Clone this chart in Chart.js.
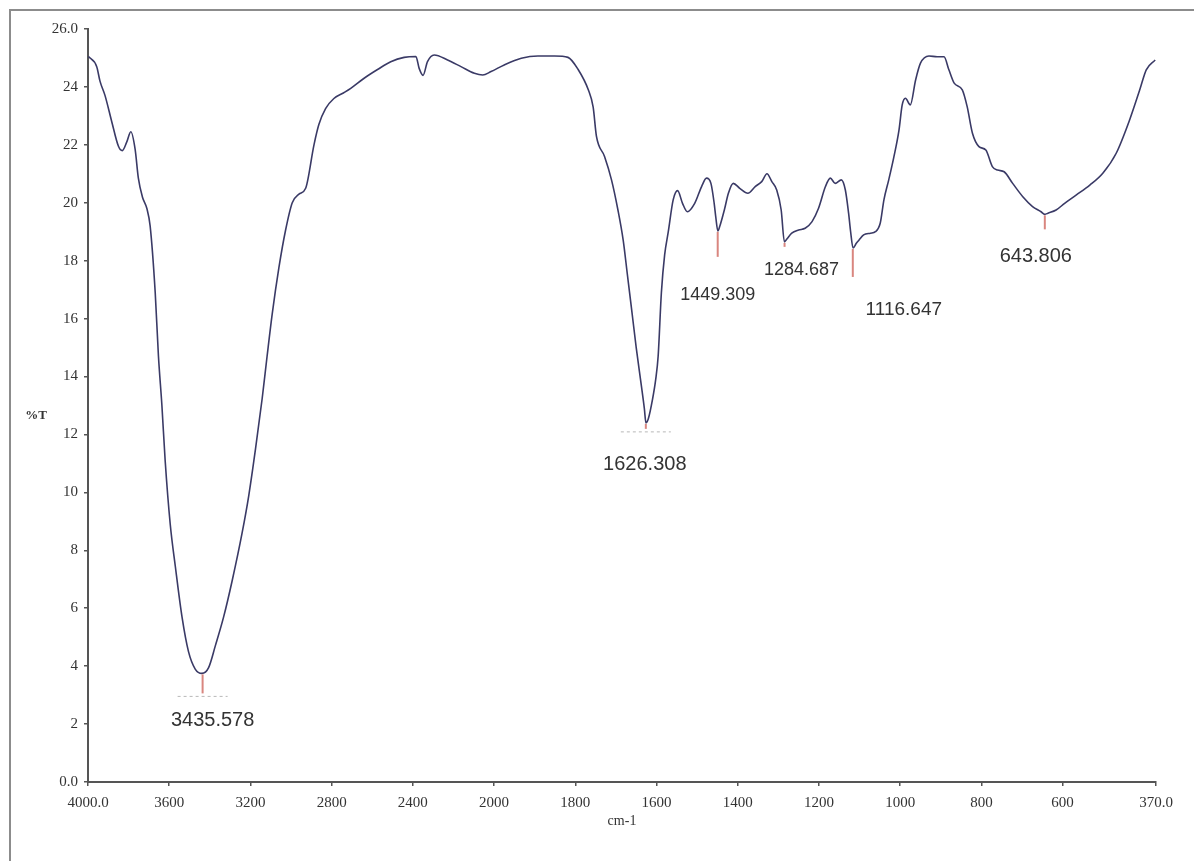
<!DOCTYPE html>
<html>
<head>
<meta charset="utf-8">
<title>FTIR %T</title>
<script src="https://cdn.jsdelivr.net/npm/chart.js@4/dist/chart.umd.min.js"></script>
<style>
  html, body { margin: 0; padding: 0; background: #fff; overflow: hidden; }
  #frame {
    position: absolute; left: 9px; top: 9px; width: 1400px; height: 1000px;
    border-left: 2px solid #8c8c8c; border-top: 2px solid #8c8c8c;
  }
  #wrap { position: absolute; left: 0; top: 0; width: 1194px; height: 861px; }
</style>
</head>
<body>
<div id="frame"></div>
<div id="wrap"><canvas id="chartIR" width="1194" height="861"></canvas></div>
<script>
// espectro: número de onda (cm-1) y %T
const wavenumbers = [3998,3957,3941,3916,3883,3850,3831,3809,3789,3768,
  3752,3732,3710,3694,3669,3653,3636,3620,3595,3570,
  3537,3505,3472,3439,3406,3373,3332,3290,3241,3208,
  3175,3142,3118,3093,3060,3027,2994,2961,2928,2887,
  2863,2830,2789,2740,2706,2640,2574,2509,2443,2385,
  2369,2350,2328,2295,2229,2163,2097,2056,2015,1975,
  1933,1892,1851,1818,1793,1768,1756,1748,1728,1711,
  1695,1682,1672,1662,1650,1637,1630,1626,1620,1610,
  1602,1596,1588,1580,1571,1559,1548,1536,1524,1506,
  1489,1477,1466,1458,1454,1449,1444,1433,1423,1411,
  1395,1375,1357,1341,1328,1316,1304,1293,1285,1279,
  1267,1250,1234,1217,1201,1184,1172,1160,1145,1135,
  1127,1122,1116,1108,1102,1090,1073,1061,1049,1040,
  1028,1016,1003,995,987,975,962,950,929,909,
  892,880,867,847,835,822,806,789,773,760,
  744,723,698,674,653,644,636,616,595,566,
  533,501,468,435,410,394,372];

const transmittance = [25.05,24.7,24.2,23.7,22.8,21.95,21.8,22.1,22.45,21.85,
  20.85,20.2,19.8,19.2,16.9,14.7,13.0,11.1,8.9,7.45,
  5.7,4.5,3.9,3.75,3.95,4.7,5.7,6.95,8.6,9.9,
  11.5,13.25,14.7,16.15,17.75,19.05,20.0,20.3,20.5,22.0,
  22.7,23.25,23.6,23.8,23.95,24.3,24.6,24.87,25.02,25.05,
  24.64,24.4,24.87,25.1,24.93,24.7,24.47,24.41,24.53,24.76,
  24.99,25.07,25.07,25.02,24.6,23.9,23.3,22.3,21.6,20.8,
  19.75,18.7,17.55,16.4,15.0,13.65,12.9,12.4,12.55,13.2,
  13.9,14.7,16.9,18.2,19.0,20.1,20.42,19.98,19.69,19.98,
  20.56,20.85,20.67,19.98,19.5,19.03,19.2,19.75,20.33,20.67,
  20.5,20.33,20.56,20.73,21.0,20.73,20.44,19.75,18.65,18.75,
  18.95,19.06,19.12,19.35,19.81,20.56,20.85,20.67,20.79,20.44,
  19.64,19.0,18.44,18.6,18.7,18.89,18.95,19.0,19.3,20.1,
  20.8,21.55,22.5,23.38,23.61,23.38,24.24,24.82,25.07,25.04,
  25.04,24.59,24.13,23.9,23.32,22.4,21.94,21.82,21.25,21.13,
  21.07,20.67,20.21,19.87,19.69,19.6,19.64,19.75,19.98,20.27,
  20.61,21.02,21.71,22.86,23.9,24.59,24.93];

// picos marcados
const peakWn = [3435.578, 1626.308, 1449.309, 1284.687, 1116.647, 643.806];
const peakT = [3.75, 12.4, 19.03, 18.65, 18.44, 19.6];
const peakLabels = ["3435.578", "1626.308", "1449.309", "1284.687", "1116.647", "643.806"];

// ejes
const xTickWn = [4000, 3600, 3200, 2800, 2400, 2000, 1800, 1600, 1400, 1200, 1000, 800, 600, 370];
const xTickLabels = ["4000.0", "3600", "3200", "2800", "2400", "2000", "1800", "1600", "1400", "1200", "1000", "800", "600", "370.0"];

// estilo de las marcas de picos (offsets en px)
const markLen = [20, 6, 26, 5, 29, 15];
const dashWidth = [50, 50, 0, 0, 0, 0];
const labelDx = [10, -1, 0, 17, 51, -9];
const labelDy = [47, 42, 64, 28, 62, 42];
const labelSize = [20, 20, 18, 18, 19, 20];

// escala del equipo: 4000-2000 a la mitad de resolución que 2000-370
function toU(w) {
    return w >= 2000 ? (4000 - w) / 2 : 1000 + (2000 - w);
}

const TICK_FONT = "'Liberation Serif', 'Times New Roman', serif";
const LABEL_FONT = "'Liberation Sans', Arial, sans-serif";

const peakMarks = {
    id: "peakMarks",
    afterDatasetsDraw(chart) {
        const { ctx, scales: { x, y } } = chart;
        peakWn.forEach((w, i) => {
            const px = x.getPixelForValue(toU(w));
            const py = y.getPixelForValue(peakT[i]);
            ctx.save();
            ctx.strokeStyle = "#d9867f";
            ctx.lineWidth = 2;
            ctx.beginPath();
            ctx.moveTo(px, py + 1);
            ctx.lineTo(px, py + markLen[i]);
            ctx.stroke();
            if (dashWidth[i]) {
                ctx.strokeStyle = "#b8b8b8";
                ctx.lineWidth = 1;
                ctx.setLineDash([3, 3]);
                ctx.beginPath();
                ctx.moveTo(px - dashWidth[i] / 2, py + markLen[i] + 3);
                ctx.lineTo(px + dashWidth[i] / 2, py + markLen[i] + 3);
                ctx.stroke();
            }
            ctx.fillStyle = "#333";
            ctx.font = labelSize[i] + "px " + LABEL_FONT;
            ctx.textAlign = "center";
            ctx.textBaseline = "middle";
            ctx.fillText(peakLabels[i], px + labelDx[i], py + labelDy[i]);
            ctx.restore();
        });

        // etiqueta del eje Y, horizontal
        ctx.save();
        ctx.fillStyle = "#333";
        ctx.font = "bold 13px " + TICK_FONT;
        ctx.textAlign = "center";
        ctx.textBaseline = "middle";
        ctx.fillText("%T", 36, 416);
        ctx.restore();
    }
};

const points = wavenumbers.map((w, i) => ({ x: toU(w), y: transmittance[i] }));

new Chart(document.getElementById("chartIR").getContext("2d"), {
    type: "line",
    data: {
        datasets: [{
            data: points,
            borderColor: "#3a3a66",
            borderWidth: 1.6,
            pointRadius: 0,
            fill: false,
            cubicInterpolationMode: "monotone"
        }]
    },
    options: {
        responsive: false,
        animation: false,
        events: [],
        layout: { padding: { top: 29, right: 38, bottom: 29, left: 0 } },
        plugins: { legend: { display: false }, tooltip: { enabled: false } },
        scales: {
            x: {
                type: "linear",
                min: 0,
                max: toU(370),
                afterBuildTicks: (scale) => {
                    scale.ticks = xTickWn.map(w => ({ value: toU(w) }));
                },
                afterFit: (scale) => { scale.height = 50; },
                ticks: {
                    autoSkip: false,
                    maxRotation: 0,
                    padding: 8,
                    color: "#333",
                    font: { family: TICK_FONT, size: 15 },
                    callback: (value, index) => xTickLabels[index]
                },
                grid: { drawOnChartArea: false, drawTicks: true, tickLength: 4, color: "#555", lineWidth: 1.5 },
                border: { display: true, color: "#555", width: 2 },
                title: {
                    display: true,
                    text: "cm-1",
                    color: "#333",
                    font: { family: TICK_FONT, size: 14 },
                    padding: { top: 0, bottom: 2 }
                }
            },
            y: {
                min: 0,
                max: 26,
                afterFit: (scale) => { scale.width = 88; },
                ticks: {
                    stepSize: 2,
                    padding: 6,
                    color: "#333",
                    font: { family: TICK_FONT, size: 15 },
                    callback: (v) => v === 0 ? "0.0" : v === 26 ? "26.0" : v
                },
                grid: { drawOnChartArea: false, drawTicks: true, tickLength: 4, color: "#555", lineWidth: 1.5 },
                border: { display: true, color: "#555", width: 2 }
            }
        }
    },
    plugins: [peakMarks]
});
</script>
</body>
</html>
